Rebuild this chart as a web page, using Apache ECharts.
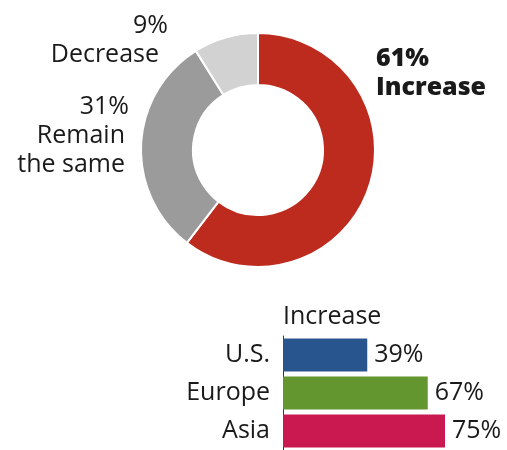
<!DOCTYPE html>
<html><head><meta charset="utf-8">
<script src="https://cdn.jsdelivr.net/npm/echarts@6/dist/echarts.min.js"></script>
<style>html,body{margin:0;padding:0;background:#fff}#c{width:507px;height:450px}</style>
</head><body><div id="c"></div>
<script>
const pieNames = ['Increase', 'Remain\nthe same', 'Decrease'];
const pieValues = [61, 31, 9];
const pieColors = ['#BD2B1F', '#9B9B9B', '#D1D2D1'];
const barCategories = ['U.S.', 'Europe', 'Asia'];
const barValues = [39, 67, 75];
const barColors = ['#29558E', '#63962F', '#CA1850'];
const barTitle = 'Increase';

const FONT = 'Open Sans';
const TXT = '#1a1a1a';
const labelPos = [
  {x: 376, y: 73, align: 'left', pk: 'pb', nk: 'nb'},
  {x: 129, y: 136, align: 'right', pk: 'p', nk: 'n4'},
  {x: 168, y: 40, align: 'right', pk: 'p', nk: 'n9'}
];
const base = {fontFamily: FONT, fontSize: 25, lineHeight: 29, color: TXT};

const chart = echarts.init(document.getElementById('c'), null, {renderer: 'canvas'});
chart.setOption({
  animation: false,
  title: {
    text: barTitle, left: 278, top: 299,
    textStyle: {fontFamily: FONT, fontSize: 25, fontWeight: 'normal', color: TXT}
  },
  grid: {left: 283, top: 336, width: 216, height: 121.5},
  xAxis: {type: 'value', min: 0, max: 100, show: false},
  yAxis: {
    type: 'category', data: barCategories, inverse: true,
    axisLine: {show: true, lineStyle: {color: '#333', width: 1}},
    axisTick: {show: false},
    axisLabel: {fontFamily: FONT, fontSize: 25, color: TXT, margin: 13, padding: [4, 0, 0, 0]}
  },
  series: [
    {
      type: 'pie', center: [258, 150], radius: [65, 117],
      startAngle: 90, clockwise: true,
      itemStyle: {borderColor: '#fff', borderWidth: 2},
      data: pieValues.map((v, i) => ({
        value: v, name: pieNames[i], itemStyle: {color: pieColors[i]}
      })),
      label: {
        show: true, position: 'outside', overflow: 'none', alignTo: 'none',
        formatter: p => {
          const L = labelPos[p.dataIndex];
          return '{' + L.pk + '|' + p.value + '%}\n' +
            p.name.split('\n').map(s => '{' + L.nk + '|' + s + '}').join('\n');
        },
        ...base,
        rich: {
          p: {...base},
          pb: {...base, fontWeight: 800},
          nb: {...base, fontWeight: 800},
          n4: {...base, padding: [0, 4, 0, 0]},
          n9: {...base, padding: [0, 9, 0, 0]}
        }
      },
      labelLine: {show: false},
      labelLayout: p => ({
        x: labelPos[p.dataIndex].x, y: labelPos[p.dataIndex].y,
        align: labelPos[p.dataIndex].align, verticalAlign: 'middle'
      }),
      emphasis: {disabled: true}
    },
    {
      type: 'bar', barWidth: 33,
      data: barValues.map((v, i) => ({value: v, itemStyle: {color: barColors[i]}})),
      label: {
        show: true, position: 'right', distance: 7, padding: [4, 0, 0, 0],
        formatter: '{c}%', fontFamily: FONT, fontSize: 25, color: TXT
      },
      emphasis: {disabled: true}
    }
  ]
});
</script></body></html>
